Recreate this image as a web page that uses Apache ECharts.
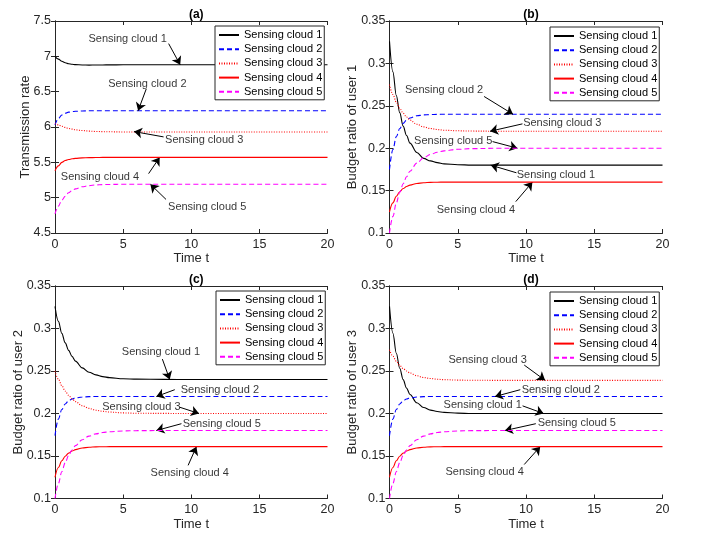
<!DOCTYPE html>
<html>
<head>
<meta charset="utf-8">
<script src="https://cdn.jsdelivr.net/npm/echarts@6/dist/echarts.min.js"></script>
<style>html,body{margin:0;padding:0;background:#fff}#c{width:702px;height:539px}</style>
</head>
<body>
<div id="c"></div>
<script>
// ---- data ----
const T = [0,0.25,0.5,0.75,1,1.25,1.5,2,2.5,3,3.5,4,5,6,8,10,15,20];
const seriesNames = ['Sensing cloud 1','Sensing cloud 2','Sensing cloud 3','Sensing cloud 4','Sensing cloud 5'];
const xTicks = [0,5,10,15,20];
const panelTitles = ['(a)','(b)','(c)','(d)'];
const yNames = ['Transmission rate','Budget ratio of user 1','Budget ratio of user 2','Budget ratio of user 3'];
const yRanges = [[4.5,7.5,0.5],[0.1,0.35,0.05],[0.1,0.35,0.05],[0.1,0.35,0.05]];

const a1 = [7.00,6.96,6.93,6.91,6.895,6.887,6.882,6.878,6.876,6.877,6.878,6.879,6.88,6.88,6.88,6.88,6.88,6.88];
const a2 = [6.03,6.12,6.17,6.195,6.21,6.218,6.222,6.227,6.229,6.23,6.23,6.23,6.23,6.23,6.23,6.23,6.23,6.23];
const a3 = [6.05,6.03,6.01,5.995,5.98,5.97,5.96,5.95,5.942,5.937,5.934,5.932,5.93,5.93,5.93,5.93,5.93,5.93];
const a4 = [5.38,5.45,5.50,5.525,5.54,5.55,5.556,5.563,5.566,5.568,5.57,5.57,5.57,5.57,5.57,5.57,5.57,5.57];
const a5 = [4.77,4.88,4.965,5.02,5.07,5.10,5.125,5.155,5.17,5.18,5.185,5.187,5.19,5.19,5.19,5.19,5.19,5.19];

const b1 = [0.326,0.29,0.262,0.242,0.226,0.215,0.206,0.195,0.188,0.185,0.183,0.1815,0.1805,0.1801,0.18,0.18,0.18,0.18];
const b2 = [0.175,0.1985,0.2136,0.2232,0.2293,0.2332,0.2356,0.2382,0.2393,0.2397,0.2399,0.24,0.24,0.24,0.24,0.24,0.24,0.24];
const b3 = [0.275,0.2634,0.2542,0.247,0.2413,0.2368,0.2332,0.2282,0.2251,0.2232,0.222,0.2212,0.2205,0.2202,0.22,0.22,0.22,0.22];
const b4 = [0.125,0.1355,0.1434,0.1487,0.1524,0.1548,0.1565,0.1584,0.1593,0.1597,0.1599,0.16,0.16,0.16,0.16,0.16,0.16,0.16];
const b5 = [0.10,0.1196,0.1353,0.148,0.1581,0.1663,0.1729,0.1824,0.1886,0.1926,0.1952,0.1969,0.1987,0.1995,0.1999,0.2,0.2,0.2];

const c1 = [0.326,0.3084,0.2943,0.2831,0.2743,0.2672,0.2616,0.2537,0.2486,0.2454,0.2434,0.2422,0.2409,0.2404,0.2401,0.24,0.24,0.24];
const c2 = [0.174,0.1935,0.2047,0.2112,0.2149,0.2171,0.2183,0.2194,0.2198,0.22,0.22,0.22,0.22,0.22,0.22,0.22,0.22,0.22];
const c3 = [0.25,0.2404,0.2327,0.2264,0.2214,0.2173,0.214,0.2091,0.206,0.2039,0.2026,0.2017,0.2007,0.2003,0.2001,0.2,0.2,0.2];
const c4 = [0.125,0.1365,0.1444,0.1497,0.1534,0.1558,0.1575,0.1594,0.1603,0.1607,0.1609,0.161,0.161,0.161,0.161,0.161,0.161,0.161];
const c5 = [0.10,0.1177,0.1315,0.1422,0.1506,0.1571,0.1622,0.1692,0.1734,0.176,0.1776,0.1785,0.1795,0.1798,0.18,0.18,0.18,0.18];

const d1 = [0.326,0.2945,0.2709,0.2532,0.2399,0.2299,0.2224,0.2126,0.2071,0.204,0.2023,0.2013,0.2004,0.2,0.2,0.2,0.2,0.2];
const d2 = [0.174,0.1935,0.2047,0.2112,0.2149,0.2171,0.2183,0.2194,0.2198,0.22,0.22,0.22,0.22,0.22,0.22,0.22,0.22,0.22];
const d3 = [0.275,0.2674,0.2614,0.2566,0.2529,0.25,0.2476,0.2444,0.2423,0.2411,0.2403,0.2398,0.2393,0.2391,0.239,0.239,0.239,0.239];
const d4 = [0.125,0.1365,0.1444,0.1497,0.1534,0.1558,0.1575,0.1594,0.1603,0.1607,0.1609,0.161,0.161,0.161,0.161,0.161,0.161,0.161];
const d5 = [0.10,0.1177,0.1315,0.1422,0.1506,0.1571,0.1622,0.1692,0.1734,0.176,0.1776,0.1785,0.1795,0.1798,0.18,0.18,0.18,0.18];

const panels = [[a1,a2,a3,a4,a5],[b1,b2,b3,b4,b5],[c1,c2,c3,c4,c5],[d1,d2,d3,d4,d5]];

// annotations: [label, textX, textY, tailX, tailY, headX, headY] in data units
const notesA = [
  ['Sensing cloud 1',5.33,7.24,8.34,7.18,9.19,6.88],
  ['Sensing cloud 2',6.78,6.61,6.7,6.54,6.1,6.23],
  ['Sensing cloud 3',10.95,5.81,7.97,5.86,5.8,5.935],
  ['Sensing cloud 4',3.3,5.29,6.87,5.34,7.68,5.57],
  ['Sensing cloud 5',11.17,4.87,8.15,4.975,7.0,5.19]
];
const notesB = [
  ['Sensing cloud 2',4.0,0.269,6.93,0.261,9.05,0.24],
  ['Sensing cloud 3',12.66,0.2296,9.74,0.2287,7.37,0.22],
  ['Sensing cloud 5',4.67,0.2087,7.55,0.2078,9.37,0.2],
  ['Sensing cloud 1',12.19,0.1685,9.3,0.171,7.42,0.18],
  ['Sensing cloud 4',6.33,0.127,9.25,0.137,10.47,0.16]
];
const notesC = [
  ['Sensing cloud 1',7.78,0.2728,7.88,0.264,8.42,0.24],
  ['Sensing cloud 2',12.1,0.2278,8.79,0.228,7.44,0.22],
  ['Sensing cloud 3',6.34,0.2074,9.15,0.2074,10.57,0.2],
  ['Sensing cloud 5',12.24,0.1875,9.28,0.188,7.44,0.18],
  ['Sensing cloud 4',9.89,0.1305,9.77,0.139,10.38,0.161]
];
const notesD = [
  ['Sensing cloud 3',7.19,0.263,9.87,0.257,11.4,0.239],
  ['Sensing cloud 2',12.55,0.228,9.58,0.228,7.73,0.22],
  ['Sensing cloud 1',6.83,0.21,9.75,0.209,11.29,0.2],
  ['Sensing cloud 5',13.72,0.189,10.72,0.188,8.46,0.18],
  ['Sensing cloud 4',6.97,0.1317,9.87,0.14,11.04,0.161]
];
const notes = [notesA,notesB,notesC,notesD];

// ---- layout & style ----
const FONT = 'Liberation Sans, Arial, Helvetica, sans-serif';
const AX = '#262626';
const grids = [
  {left:55, top:21, width:272.5, height:212},
  {left:389.5, top:21, width:273, height:212},
  {left:55, top:286, width:272.5, height:212.5},
  {left:389.5, top:286, width:273, height:212.5}
];
const yNameGaps = [23, 31, 30.5, 31];
const legendPos = [[215,26],[550,27],[216,291],[550,292]];
const lineStyles = [
  {color:'#000000', type:'solid'},
  {color:'#0000ff', type:[5,3]},
  {color:'#ff0000', type:[1,1.5]},
  {color:'#ff0000', type:'solid'},
  {color:'#ff00ff', type:[5,3]}
];

const xAxis = [], yAxis = [], series = [], legend = [], title = [];
grids.forEach((g, i) => {
  xAxis.push({
    type:'value', gridIndex:i, position:'bottom', min:xTicks[0], max:xTicks[xTicks.length-1], interval:5,
    axisLine:{show:true, lineStyle:{color:AX, width:1}},
    axisTick:{show:true, inside:true, length:4, lineStyle:{color:AX}},
    axisLabel:{fontSize:12.5, color:AX, margin:5, fontFamily:FONT},
    splitLine:{show:false},
    name:'Time t', nameLocation:'middle', nameGap:19, nameMoveOverlap:false,
    nameTextStyle:{fontSize:13, color:AX, fontFamily:FONT}
  });
  xAxis.push({
    type:'value', gridIndex:i, position:'top', min:xTicks[0], max:xTicks[xTicks.length-1], interval:5,
    axisLine:{show:true, lineStyle:{color:AX, width:1}},
    axisTick:{show:true, inside:true, length:4, lineStyle:{color:AX}},
    axisLabel:{show:false}, splitLine:{show:false}
  });
  const r = yRanges[i];
  yAxis.push({
    type:'value', gridIndex:i, position:'left', min:r[0], max:r[1], interval:r[2],
    axisLine:{show:true, lineStyle:{color:AX, width:1}},
    axisTick:{show:true, inside:true, length:4, lineStyle:{color:AX}},
    axisLabel:{fontSize:12.5, color:AX, margin:4, fontFamily:FONT},
    splitLine:{show:false},
    name:yNames[i], nameLocation:'middle', nameGap:yNameGaps[i], nameRotate:90, nameMoveOverlap:false,
    nameTextStyle:{fontSize:13, color:AX, fontFamily:FONT}
  });
  yAxis.push({
    type:'value', gridIndex:i, position:'right', min:r[0], max:r[1], interval:r[2],
    axisLine:{show:true, lineStyle:{color:AX, width:1}},
    axisTick:{show:true, inside:true, length:4, lineStyle:{color:AX}},
    axisLabel:{show:false}, splitLine:{show:false}
  });
  panels[i].forEach((vals, k) => {
    series.push({
      type:'line', name:seriesNames[k], xAxisIndex:2*i, yAxisIndex:2*i,
      data:T.map((t, j) => [t, vals[j]]),
      showSymbol:false, symbol:'none', smooth:0.35, smoothMonotone:'x',
      lineStyle:Object.assign({width:1.1}, lineStyles[k]),
      itemStyle:{color:lineStyles[k].color},
      silent:true, z:2+k
    });
  });
  const nt = notes[i];
  series.push({
    type:'scatter', name:'notes'+i, xAxisIndex:2*i, yAxisIndex:2*i,
    data:nt.map(n => [n[1], n[2], n[0]]),
    symbol:'circle', symbolSize:1, itemStyle:{color:'rgba(0,0,0,0)'},
    label:{show:true, position:'inside', formatter:p => p.value[2], fontSize:11, color:'#000', fontFamily:FONT},
    silent:true, z:20,
    markLine:{
      silent:true, symbol:['none','arrow'], symbolSize:8, precision:4,
      lineStyle:{color:'#000', width:1, type:'solid'},
      label:{show:false}, emphasis:{disabled:true},
      data:nt.map(n => [{coord:[n[3], n[4]]}, {coord:[n[5], n[6]]}])
    }
  });
  legend.push({
    data:seriesNames, orient:'vertical', left:legendPos[i][0], top:legendPos[i][1],
    itemWidth:20, itemHeight:10, itemGap:2.2,
    backgroundColor:'#fff', borderColor:AX, borderWidth:1, borderRadius:0,
    padding:[3,2,2,3],
    itemStyle:{opacity:0, borderWidth:0},
    textStyle:{fontSize:11, color:'#000', fontFamily:FONT, lineHeight:12},
    selectedMode:false
  });
  title.push({
    text:panelTitles[i], left:g.left + g.width/2, top:i < 2 ? 4 : 269, textAlign:'center',
    textStyle:{fontSize:12, fontWeight:'bold', color:'#000', fontFamily:FONT}
  });
});

const chart = echarts.init(document.getElementById('c'), null, {renderer:'canvas'});
chart.setOption({
  backgroundColor:'#fff',
  animation:false,
  textStyle:{fontFamily:FONT},
  title, grid:grids, xAxis, yAxis, legend, series
});
</script>
</body>
</html>
